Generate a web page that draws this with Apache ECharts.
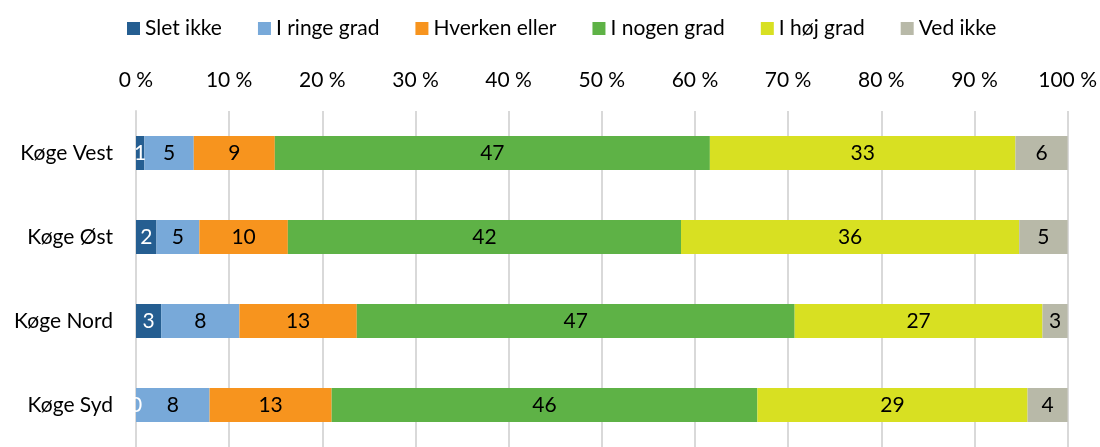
<!DOCTYPE html>
<html>
<head>
<meta charset="utf-8">
<script src="https://cdn.jsdelivr.net/npm/echarts@6/dist/echarts.min.js"></script>
<style>
    html, body { margin: 0; padding: 0; background: #fff; }
    #chart { width: 1100px; height: 447px; }
</style>
</head>
<body>
<div id="chart"></div>
<script>
// kategorier (oppefra og ned)
var categories = ["Køge Vest", "Køge Øst", "Køge Nord", "Køge Syd"];
var seriesNames = ["Slet ikke", "I ringe grad", "Hverken eller", "I nogen grad", "I høj grad", "Ved ikke"];
// andele i procent
var sletIkke = [0.9, 2.2, 2.7, 0];
var iRingeGrad = [5.3, 4.6, 8.4, 7.9];
var hverkenEller = [8.7, 9.5, 12.6, 13.1];
var iNogenGrad = [46.7, 42.2, 47.0, 45.7];
var iHoejGrad = [32.8, 36.3, 26.6, 29.0];
var vedIkke = [5.6, 5.2, 2.7, 4.3];
var tickLabels = ["0 %", "10 %", "20 %", "30 %", "40 %", "50 %", "60 %", "70 %", "80 %", "90 %", "100 %"];

(function() {
    var myChart = echarts.init(document.getElementById("chart"));
    var colors = ["#255e91", "#78a9d9", "#f7941e", "#5eb246", "#d8e022", "#b8b9a8"];
    var labelColors = ["#fff", "#000", "#000", "#000", "#000", "#000"];
    var allData = [sletIkke, iRingeGrad, hverkenEller, iNogenGrad, iHoejGrad, vedIkke];
    var font = "Lato";

    var series = seriesNames.map(function(name, i) {
        return {
            name: name,
            type: "bar",
            stack: "total",
            barWidth: 34,
            data: allData[i],
            itemStyle: { color: colors[i] },
            label: {
                show: true,
                position: "inside",
                color: labelColors[i],
                fontFamily: font,
                fontSize: 21,
                formatter: function(p) { return Math.round(p.value); }
            },
            emphasis: { disabled: true }
        };
    });

    var option = {
        animation: false,
        textStyle: { fontFamily: font },
        legend: {
            top: 13,
            left: 122,
            itemWidth: 13,
            itemHeight: 13,
            itemGap: 36,
            icon: "rect",
            textStyle: { fontSize: 21, color: "#000", fontFamily: font },
            data: seriesNames
        },
        grid: {
            left: 136,
            right: 32,
            top: 111,
            bottom: -8,
            containLabel: false
        },
        xAxis: {
            type: "value",
            position: "top",
            min: 0,
            max: 100,
            interval: 10,
            axisLine: { show: false },
            axisTick: { show: false },
            axisLabel: {
                color: "#000",
                fontSize: 21,
                fontFamily: font,
                margin: 20,
                formatter: function(v) { return tickLabels[Math.round(v / 10)]; }
            },
            splitLine: { lineStyle: { color: "#d9d9d9", width: 2 } }
        },
        yAxis: {
            type: "category",
            inverse: true,
            data: categories,
            axisLine: { show: true, lineStyle: { color: "#d9d9d9", width: 2 } },
            axisTick: { show: false },
            axisLabel: { color: "#000", fontSize: 21, fontFamily: font, margin: 23 }
        },
        series: series
    };

    myChart.setOption(option);
    window.addEventListener("resize", function() {
        myChart.resize();
    });
})();
</script>
</body>
</html>
